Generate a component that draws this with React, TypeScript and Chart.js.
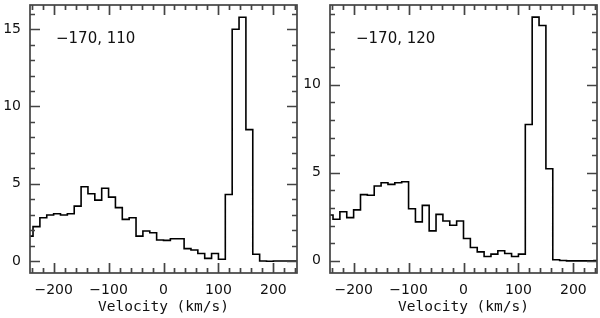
import React, { useEffect, useRef } from 'react';
import { Chart, registerables } from 'chart.js';

Chart.register(...registerables);

// Velocity channels: left edge of first channel and channel width (km/s)
const CHANNEL_START = -250;
const CHANNEL_WIDTH = 12.5;

// Spectrum at position (-170, 110)
const LEFT_VALUES = [
  1.61, 2.22, 2.8, 2.97, 3.06, 2.97, 3.06, 3.55, 4.8, 4.35,
  3.94, 4.71, 4.13, 3.45, 2.69, 2.8, 1.61, 1.94, 1.83, 1.36,
  1.33, 1.44, 1.44, 0.8, 0.71, 0.48, 0.17, 0.48, 0.11, 4.3,
  15.0, 15.78, 8.5, 0.43, 0.0, -0.02, 0.0, 0.0, 0.0, 0.0,
];

// Spectrum at position (-170, 120)
const RIGHT_VALUES = [
  2.6, 2.36, 2.79, 2.45, 2.89, 3.76, 3.72, 4.25, 4.43, 4.34,
  4.43, 4.49, 2.96, 2.21, 3.15, 1.7, 2.64, 2.26, 2.02, 2.26,
  1.27, 0.76, 0.51, 0.25, 0.38, 0.57, 0.42, 0.25, 0.38, 7.74,
  13.83, 13.36, 5.23, 0.06, 0.02, 0.0, 0.0, 0.0, 0.0, 0.02,
];

const LEFT_LABEL = '\u2212170, 110';
const RIGHT_LABEL = '\u2212170, 120';
const X_TITLE = 'Velocity (km/s)';

const X_MAJOR = [-200, -100, 0, 100, 200];
const X_MINOR_STEP = 20;
const LEFT_Y_MAJOR = [0, 5, 10, 15];
const RIGHT_Y_MAJOR = [0, 5, 10];
const Y_MINOR_STEP = 1;

const X_RANGE = [-243, 243];
const LEFT_Y_RANGE = [-0.78, 16.57];
const RIGHT_Y_RANGE = [-0.69, 14.52];

const fmt = (v: number) => (v < 0 ? '\u2212' + Math.abs(v) : String(v));

function toSteps(values: number[]) {
  const pts = values.map((y, i) => ({ x: CHANNEL_START + i * CHANNEL_WIDTH, y }));
  pts.push({ x: CHANNEL_START + values.length * CHANNEL_WIDTH, y: values[values.length - 1] });
  return pts;
}

const zeroPad = (s: any) => {
  s.paddingTop = 0;
  s.paddingBottom = 0;
  s.paddingLeft = 0;
  s.paddingRight = 0;
};

const frameTicksPlugin = {
  id: 'frameTicks',
  afterDraw(chart: any, _args: any, opts: any) {
    const { ctx, chartArea: a, scales } = chart;
    const xs = scales.x;
    const ys = scales.y;
    ctx.save();
    ctx.strokeStyle = '#444';
    ctx.lineWidth = 1.7;
    ctx.strokeRect(a.left, a.top, a.right - a.left, a.bottom - a.top);
    ctx.beginPath();
    const majX: number[] = opts.xMajor;
    for (let v = Math.ceil(xs.min / X_MINOR_STEP) * X_MINOR_STEP; v <= xs.max; v += X_MINOR_STEP) {
      const p = Math.round(xs.getPixelForValue(v)) + 0.5;
      const len = majX.includes(v) ? 10 : 5;
      ctx.moveTo(p, a.bottom);
      ctx.lineTo(p, a.bottom - len);
      ctx.moveTo(p, a.top);
      ctx.lineTo(p, a.top + len);
    }
    const majY: number[] = opts.yMajor;
    for (let v = Math.ceil(ys.min / Y_MINOR_STEP) * Y_MINOR_STEP; v <= ys.max; v += Y_MINOR_STEP) {
      const p = Math.round(ys.getPixelForValue(v)) + 0.5;
      const len = majY.includes(v) ? 10 : 5;
      ctx.moveTo(a.left, p);
      ctx.lineTo(a.left + len, p);
      ctx.moveTo(a.right, p);
      ctx.lineTo(a.right - len, p);
    }
    ctx.stroke();
    ctx.fillStyle = '#111';
    ctx.font = '15px "DejaVu Sans"';
    ctx.textBaseline = 'middle';
    ctx.textAlign = 'left';
    ctx.fillText(opts.label, a.left + 26, a.top + 34);
    ctx.restore();
  },
};

function Panel({ values, label, yMajor, yRange }: { values: number[]; label: string; yMajor: number[]; yRange: number[] }) {
  const ref = useRef<HTMLCanvasElement>(null);
  useEffect(() => {
    if (!ref.current) return;
    const chart = new Chart(ref.current, {
      type: 'line',
      data: {
        datasets: [
          {
            data: toSteps(values),
            stepped: 'before',
            borderColor: '#000',
            borderWidth: 1.6,
            pointRadius: 0,
            fill: false,
            tension: 0,
          },
        ],
      },
      options: {
        responsive: false,
        animation: false,
        events: [],
        layout: { padding: { top: 5, right: 3, left: 0, bottom: 0 } },
        plugins: {
          legend: { display: false },
          tooltip: { enabled: false },
          frameTicks: { label, xMajor: X_MAJOR, yMajor },
        } as any,
        scales: {
          x: {
            type: 'linear',
            min: X_RANGE[0],
            max: X_RANGE[1],
            grid: { display: false, drawTicks: false },
            border: { display: false },
            afterBuildTicks: (s: any) => {
              s.ticks = X_MAJOR.map((v) => ({ value: v }));
            },
            afterFit: (s: any) => {
              s.height = 45;
              zeroPad(s);
            },
            ticks: {
              padding: 9,
              maxRotation: 0,
              autoSkip: false,
              color: '#111',
              font: { family: 'DejaVu Sans', size: 14 },
              callback: (v: any) => fmt(Number(v)),
            },
            title: {
              display: true,
              text: X_TITLE,
              color: '#111',
              font: { family: 'DejaVu Sans Mono', size: 14.5 },
              padding: { top: 0, bottom: 2 },
            },
          },
          y: {
            type: 'linear',
            min: yRange[0],
            max: yRange[1],
            grid: { display: false, drawTicks: false },
            border: { display: false },
            afterBuildTicks: (s: any) => {
              s.ticks = yMajor.map((v) => ({ value: v }));
            },
            afterFit: (s: any) => {
              s.width = 30;
              zeroPad(s);
            },
            ticks: {
              padding: 9,
              autoSkip: false,
              color: '#111',
              font: { family: 'DejaVu Sans', size: 14 },
              callback: (v: any) => fmt(Number(v)),
            },
          },
        },
      },
      plugins: [frameTicksPlugin],
    });
    return () => chart.destroy();
  }, [values, label, yMajor, yRange]);
  return <canvas ref={ref} width={300} height={318} style={{ width: 300, height: 318, display: 'block' }} />;
}

export default function App() {
  return (
    <div style={{ position: 'fixed', left: 0, top: 0, width: 600, height: 318, display: 'flex', background: '#fff' }}>
      <Panel values={LEFT_VALUES} label={LEFT_LABEL} yMajor={LEFT_Y_MAJOR} yRange={LEFT_Y_RANGE} />
      <Panel values={RIGHT_VALUES} label={RIGHT_LABEL} yMajor={RIGHT_Y_MAJOR} yRange={RIGHT_Y_RANGE} />
    </div>
  );
}
